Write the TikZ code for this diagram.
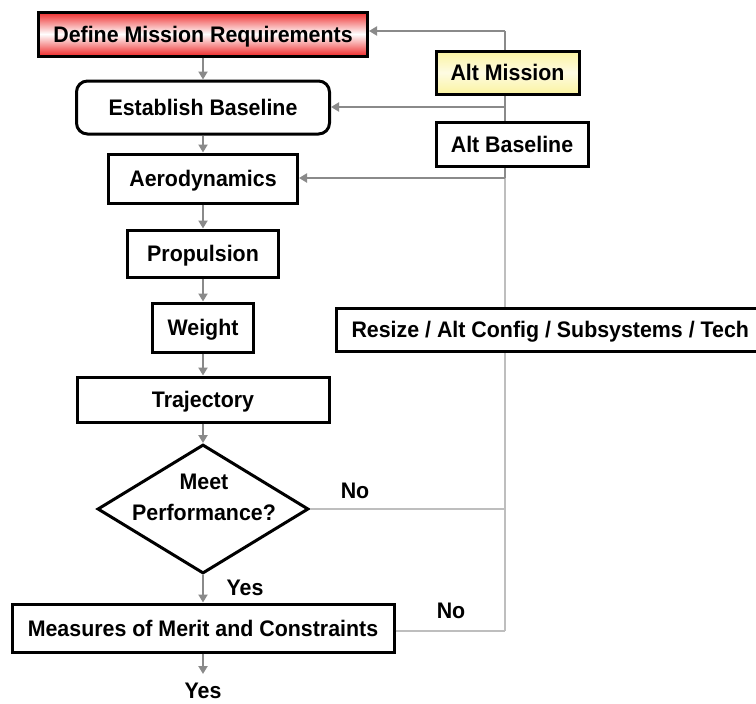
\documentclass[tikz,border=0pt]{standalone}
\usepackage{fontspec}
\setmainfont[FakeStretch=0.95]{Liberation Sans}
\usetikzlibrary{shapes.geometric,arrows.meta,backgrounds}
\definecolor{arrgray}{HTML}{8A8A8A}
\definecolor{lightgray2}{HTML}{BEBEBE}
\definecolor{boxred}{HTML}{EE2A2A}
\definecolor{boxyellow}{HTML}{FBF3A0}
\begin{document}
\begin{tikzpicture}[x=1pt,y=-1pt,
  txt/.style={font=\bfseries\fontsize{22.5}{31}\selectfont},
  box/.style={txt,draw=black,line width=3pt,fill=white,inner sep=0pt,
              text height=16pt,text depth=0pt},
  lbl/.style={txt,inner sep=0pt,text height=16pt,text depth=0pt},
  arr/.style={draw=arrgray,line width=2pt,-{Triangle[length=8pt,width=9pt]}},
  dark/.style={draw=arrgray,line width=2pt},
  light/.style={draw=lightgray2,line width=1.6pt}]
\useasboundingbox (0,0) rectangle (756,704);

% left column
\node[box,minimum width=329pt,minimum height=44pt,
      top color=boxred,bottom color=boxred,middle color=white] (def) at (203,34) {Define Mission Requirements};
\node[box,rounded corners=11pt,minimum width=253pt,minimum height=53pt] (est) at (203,107.5) {Establish Baseline};
\node[box,minimum width=189pt,minimum height=49pt] (aero) at (203,178.5) {Aerodynamics};
\node[box,minimum width=151pt,minimum height=47pt] (prop) at (203,253.5) {Propulsion};
\node[box,minimum width=101pt,minimum height=49pt] (weight) at (203,327.5) {Weight};
\node[box,minimum width=252pt,minimum height=45pt] (traj) at (203,399.5) {Trajectory};
\node[draw=black,line width=3pt,fill=white,diamond,inner sep=0pt,
      minimum width=211pt,minimum height=129pt] (perf) at (203,509) {};
\node[txt,align=center,inner sep=0pt] (perftxt) at (204,497) {Meet\\Performance?};
\node[box,minimum width=382pt,minimum height=48pt] (mom) at (203,628) {Measures of Merit and Constraints};
\coordinate (out) at (203,674);
\node[lbl] (yes2) at (203,690) {Yes};

% right column
\node[box,minimum width=143pt,minimum height=43pt,
      top color=boxyellow,bottom color=boxyellow,middle color=white!70!boxyellow] (altm) at (507.5,72.5) {Alt Mission};
\node[box,minimum width=152pt,minimum height=44pt] (altb) at (512,144) {Alt Baseline};
\node[box,anchor=west,inner xsep=15pt,minimum height=43pt] (resize) at (335,329.5) {Resize / Alt Config / Subsystems / Tech};

% junctions on the return line
\coordinate (j1) at (505,31);
\coordinate (j2) at (505,107);
\coordinate (j3) at (505,178);
\coordinate (j4) at (505,509);
\coordinate (j5) at (505,631);

\begin{scope}[on background layer]
  \fill[white] (0,0) rectangle (756,704);
  \draw[light] (j5) -- (j3);
  \draw[dark] (j3) -- (j1);
\end{scope}

% forward flow
\draw[arr] (def.south) -- (est.north);
\draw[arr] (est.south) -- (aero.north);
\draw[arr] (aero.south) -- (prop.north);
\draw[arr] (prop.south) -- (weight.north);
\draw[arr] (weight.south) -- (traj.north);
\draw[arr] (traj.south) -- (perf.north);
\draw[arr] (perf.south) -- (mom.north);
\draw[arr] (mom.south) -- (out);

% return paths
\draw[light] (perf.east) -- (j4);
\draw[light] (j5 -| mom.east) -- (j5);
\draw[arr] (j1) -- (j1 -| def.east);
\draw[arr] (j2) -- (j2 -| est.east);
\draw[arr] (j3) -- (j3 -| aero.east);

% labels
\node[lbl] (no1) at (355,490) {No};
\node[lbl] (yes1) at (245,587) {Yes};
\node[lbl] (no2) at (451,610) {No};
\end{tikzpicture}
\end{document}
